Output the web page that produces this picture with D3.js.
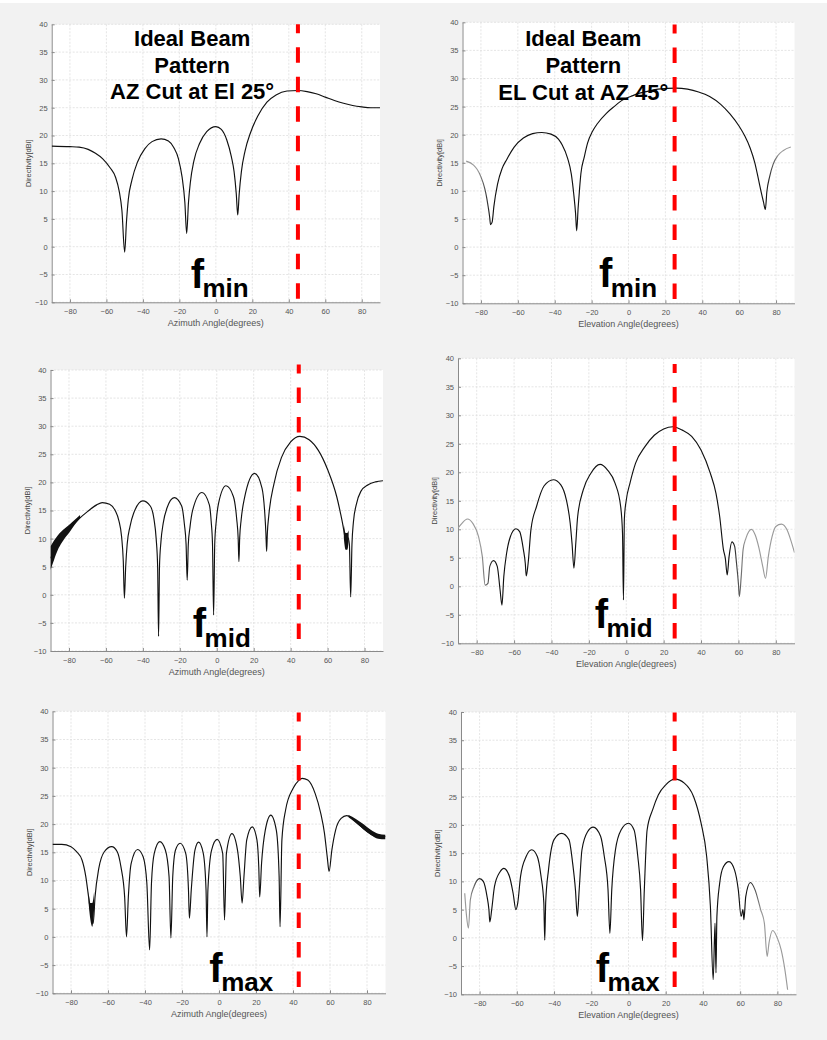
<!DOCTYPE html>
<html><head><meta charset="utf-8">
<script src="https://cdn.jsdelivr.net/npm/d3@7"></script>
<style>body{margin:0;background:#fff}svg{display:block}</style>
</head><body>
<svg id="c" width="827" height="1040"></svg>
<script>
// ---------- tick labels / axis texts ----------
const yTicks = [-10, -5, 0, 5, 10, 15, 20, 25, 30, 35, 40];
const xTicks = [-80, -60, -40, -20, 0, 20, 40, 60, 80];
const yLabel = "Directivity[dBi]";
const xLabels = ["Azimuth Angle(degrees)", "Elevation Angle(degrees)", "Azimuth Angle(degrees)",
                 "Elevation Angle(degrees)", "Azimuth Angle(degrees)", "Elevation Angle(degrees)"];
const titleLeft = ["Ideal Beam", "Pattern", "AZ Cut at El 25°"];
const titleRight = ["Ideal Beam", "Pattern", "EL Cut at AZ 45°"];
const freqSub = ["min", "min", "mid", "mid", "max", "max"];

// ---------- series: AZ cut, f_min ----------
const azMinAng = [-90,-80,-75,-70,-66,-62,-58,-55,-53,-51.5,-50,-49,-48,-46,-43,-39,-35,-30,-26,-23,-20.5,-18.5,-17,-16,-15,-14,-12,-9,-5,0,3,6,8.5,10,11.2,12,12.8,14,16,19,23,28,33,39,45,50,55,60,65,70,75,80,85,90];
const azMinDb  = [18.1,18.0,17.9,17.5,16.8,15.8,14.2,12.5,10,6.5,-1,4.5,8.5,12,15.2,17.6,18.9,19.4,19,17.8,15.8,12.5,8,2.4,8,11.5,15.5,18.5,20.7,21.6,21.1,19.2,16.2,13.5,9.5,5.7,9.5,13.5,17.2,20.5,23.5,26,27.3,28,28.1,27.9,27.5,26.9,26.3,25.8,25.4,25.15,25.0,25.0];

// ---------- series: EL cut, f_min ----------
const elMinAng = [-88,-84,-82,-80,-78,-77,-76,-75.3,-74.8,-73.9,-73,-71,-68.5,-66,-62,-57,-52,-47,-42,-38,-36,-33,-31,-29.7,-28.7,-28.1,-27.3,-26.5,-25.8,-24,-22.2,-19.5,-16.8,-12,-7.8,-3,1.2,6,10.2,16,26,32,38,44,50,55,60,63,66,68.5,70.5,72,73.2,74.2,75,76.5,78.5,81,84,88];
const elMinDb  = [15.3,14.6,13.8,12.5,10.5,9,7,5.4,4,4.5,7.2,11.2,14,15.6,17.8,19.4,20.2,20.4,20.1,19.2,18.2,15.8,13,9.5,6,2.9,7,10.5,13.1,16,18.5,20.6,22,23.8,25,26.2,26.8,27.4,27.7,28.1,28.3,28.1,27.6,26.8,25.4,23.7,21.5,19.8,17.6,15,12,9.7,8,6.7,9.8,12.5,14.8,16.3,17.2,17.8];

// ---------- series: AZ cut, f_mid ----------
const azMidAng = [-90,-85,-80,-75,-70,-65,-62,-58,-55,-53,-51.5,-50.6,-50,-49.3,-48.5,-47,-45,-40,-36,-34,-32.8,-32,-31.5,-31,-30.2,-29,-27,-23,-19,-17.5,-16.6,-16,-15.4,-14.5,-13,-8,-4,-3,-2.3,-1.7,-1.1,-0.3,1,5,9,10.8,11.6,12,12.4,13.2,15,20.5,24.5,26,26.6,27,27.4,28.2,31,35,40,45,50,55,60,65,67,68.5,69.7,70.3,71,71.8,72.5,73.2,74,75.5,78,82,86,90];
const azMidDb  = [6.5,9.7,11.7,13.4,14.8,16.0,16.4,16.1,15,13.2,10.3,6,-0.6,5,9,12.1,14.5,16.7,15.8,13.5,10,5,-7.4,5,9.5,12.7,15.4,17.3,15.8,12.5,9,2.6,9,12,15.1,18.2,16,13,9,-3.6,9,13,16.3,19.4,17.5,13.5,10,5.9,10,13.3,17.2,21.6,19,14.5,11,7.7,11,14.2,19.8,24.4,27.2,28.2,27.6,25.7,22.3,17.4,14.5,12,9.5,8.2,10.2,9,-0.4,9,13,16,18.4,19.6,20.1,20.3];
const azMidBandAng = [-90,-88,-86,-84,-82,-80,-77,-74];
const azMidBandLo  = [4.4,6.3,8,9.2,10.2,11,12.4,13.6];
const azMidBandHi  = [8.6,9.7,10.6,11.3,11.9,12.4,13.3,14.2];
const azMidBand2Ang = [68.8,69.8,70.6,71.4];
const azMidBand2Lo  = [10,8,8,9.5];
const azMidBand2Hi  = [12.5,11,11,11.5];

// ---------- series: EL cut, f_mid ----------
const elMidAng = [-90,-88,-85,-82,-79,-77,-75.5,-74,-73,-71,-69,-67.5,-66.5,-65.5,-64,-62,-59,-57,-55,-54,-53.5,-52.5,-51,-48,-44,-39,-35,-32,-30,-29,-28,-27,-26,-23,-19,-14,-10,-6,-3,-2,-1.5,-1,0,2,5,10,15,20,25,30,35,40,45,48,50,52,53,54,55,56.5,58,59,60,60.5,61.5,62.5,64,67,69,71,73,74.5,76,78,80,83,86,88,90];
const elMidDb  = [10.2,11,11.8,11,8.7,5.2,0.2,0.5,3.5,4.5,3.5,-0.6,-3.3,1.7,5.8,8.7,10.1,9.6,6.4,4,1.8,4,9.9,14,17.6,18.7,17.8,15.1,11.1,7.5,3.2,7.5,12.2,16.9,19.8,21.4,20.4,18.1,14,9.3,-2.4,11.9,15.1,18.1,21.6,24.5,26.5,27.6,28,27.4,26.3,23.9,19.8,16.3,12.2,6.4,4.9,2,5.2,7.8,7,4,0.5,-1.8,1.7,6.4,8.4,10,9,6.7,3.5,1.4,5.2,8.7,10.5,10.9,9.9,8.1,5.9];

// ---------- series: AZ cut, f_max ----------
const azMaxAng = [-90,-85,-80,-77,-74,-72,-70.5,-69,-68,-67,-65,-62,-58,-55,-53,-51,-50,-49,-47.5,-44,-41,-39,-37.5,-36.5,-35,-32,-29,-27,-26,-25,-23.5,-21,-18,-16.5,-16,-15,-13,-11,-8.5,-7,-6.5,-6,-4,-1,2,3,4,7,10,11.5,12.5,13.5,15,18,20.5,21.5,22,23,25,28,31,32.5,33,34,36,40,43,45,48,52,55,57,58.5,59.5,61,63,66,69,72,75,80,85,90];
const azMaxDb  = [16.4,16.4,16,15.1,13.6,10.7,7.1,3.6,2.4,7.1,12.1,15.1,16,15.1,12.4,7.1,0,7.1,13,15.5,14.2,9.5,-2.3,9.5,14.8,16.9,15.4,10.7,-0.2,10.7,15.4,16.6,14.8,8.3,3.3,8.3,15.4,16.8,14.8,8.3,0,8.3,15.4,17.3,14.8,3,14.8,18.3,15.4,10.7,6,10.7,17.2,19.5,17.2,12.4,7.1,13,18.9,21.6,18.9,10.7,1.8,17.2,22.5,26.3,27.7,28.1,27.8,25.4,21.9,18.4,14.2,11.6,15.4,18.9,21,21.5,21,20.1,18.7,17.8,17.8];
const azMaxBandAng = [70,74,78,82,86,90];
const azMaxBandLo  = [21.2,20.2,19.1,18.1,17.4,17.3];
const azMaxBandHi  = [21.6,20.9,20,19,18.3,18.1];
const azMaxBand2Ang = [-70.5,-69.5,-68.5,-67.5];
const azMaxBand2Lo  = [6,3,1.8,5];
const azMaxBand2Hi  = [8,6,6,8];

// ---------- series: EL cut, f_max ----------
const elMaxAng = [-88,-87,-86,-85,-83,-80,-78,-76,-75,-74.5,-73.5,-72,-69,-67,-64,-62,-60.5,-59.5,-58,-55,-52,-49,-47,-45.5,-45,-44.5,-43,-40,-36,-32,-30,-28.5,-27.5,-26.5,-25,-22,-19,-15,-13,-11,-10,-9,-7,-4,0,3,5,6.5,7.5,8.5,10,13,16,20,25,30,35,39,42,44,45.5,46.5,47,47.5,49,51,54,57,59,60.5,61.5,62,63,65.5,68,71,73,74.5,75.5,77.5,80,82,84,85.5];
const elMaxDb  = [7.9,3.8,1.7,6.7,9.1,10.5,10,7.3,5,2.8,5,9.1,11.7,12.3,10.9,7.9,5,6.2,10.9,14.4,15.6,14.4,10.9,6.2,-0.4,6.2,12,17.4,18.5,17.4,13.2,8.5,3.8,8.5,15.6,18.8,19.6,18,14.4,8.5,0.8,8.5,15.6,19.1,20.3,19.1,14.4,8.5,-0.5,8.5,19.1,22.7,25.3,27.1,28.1,27.4,25,20.3,14.4,5.6,-7.4,2.6,-6.2,3.8,9.7,12.6,13.5,12,8.5,3.8,5,3.2,7.3,9.8,8.5,5,2.6,-3.3,-0.9,1.3,-0.05,-2.1,-5.6,-9.2];

// ---------- steering markers (red dashed) ----------
const redAngle  = [45, 25, 44.4, 25.9, 43.1, 24.8];
const redTop    = [40, 39.6, 41, 39, 39.8, 39.9];
const redBottom = [-9.6, -9.6, -8.2, -9.4, -9.4, -9.1];

// ---------- layout (pixels / styling) ----------
const panels = [
  {L:51.7, T:24.3, R:380,   B:302.3, ang:azMinAng, db:azMinDb, title:titleLeft,  tAt:[-13,[36.15,31.3,26.5]], fAt:[-13.8,-7.34], bands:[], faint:null},
  {L:462.5,T:22.3, R:794.5, B:303.3, ang:elMinAng, db:elMinDb, title:titleRight, tAt:[-24.5,[35.8,31.0,26.2]], fAt:[-16,-7.15], bands:[], faint:[-80,80]},
  {L:50.5, T:370,  R:383,   B:651,   ang:azMidAng, db:azMidDb, title:null, fAt:[-13,-7.56],
     bands:[[azMidBandAng,azMidBandLo,azMidBandHi],[azMidBand2Ang,azMidBand2Lo,azMidBand2Hi]], faint:null},
  {L:458,  T:358.3,R:794.5, B:643.3, ang:elMidAng, db:elMidDb, title:null, fAt:[-16.9,-7.26], bands:[], faint:[-76,62]},
  {L:52.5, T:711.3,R:385.5, B:993.3, ang:azMaxAng, db:azMaxDb, title:null, fAt:[-5.24,-7.94],
     bands:[[azMaxBandAng,azMaxBandLo,azMaxBandHi],[azMaxBand2Ang,azMaxBand2Lo,azMaxBand2Hi]], faint:null},
  {L:461,  T:712,  R:796,   B:994.3, ang:elMaxAng, db:elMaxDb, title:null, fAt:[-17.6,-7.77], bands:[], faint:[-84,70]}
];

const svg = d3.select("#c");
const defs = svg.append("defs");
svg.append("rect").attr("x",0).attr("y",3).attr("width",827).attr("height",1037).attr("fill","#f2f2f2");
const FONT = "'Liberation Sans', Arial, Helvetica, sans-serif";

panels.forEach((p, i) => {
  const x = d3.scaleLinear().domain([-90, 90]).range([p.L, p.R]);
  const y = d3.scaleLinear().domain([-10, 40]).range([p.B, p.T]);
  const g = svg.append("g");

  g.append("rect").attr("x", p.L).attr("y", p.T).attr("width", p.R - p.L).attr("height", p.B - p.T).attr("fill", "#fff");

  // grid
  g.selectAll(".gx").data(xTicks).join("line")
    .attr("x1", d => x(d)).attr("x2", d => x(d)).attr("y1", p.T).attr("y2", p.B)
    .attr("stroke", "#dedede").attr("stroke-width", 0.8).attr("stroke-dasharray", "2 1.5");
  g.selectAll(".gy").data(yTicks).join("line")
    .attr("y1", d => y(d)).attr("y2", d => y(d)).attr("x1", p.L).attr("x2", p.R)
    .attr("stroke", "#dedede").attr("stroke-width", 0.8).attr("stroke-dasharray", "2 1.5");

  // axes
  const ax = g.append("g").attr("transform", `translate(0,${p.B})`)
    .call(d3.axisBottom(x).tickValues(xTicks).tickSizeInner(-3).tickSizeOuter(0).tickPadding(6.5));
  const ay = g.append("g").attr("transform", `translate(${p.L},0)`)
    .call(d3.axisLeft(y).tickValues(yTicks).tickSizeInner(-3).tickSizeOuter(0).tickPadding(4));
  [ax, ay].forEach(a => {
    a.select(".domain").attr("stroke", "#8a8a8a");
    a.selectAll(".tick line").attr("stroke", "#8a8a8a");
    a.selectAll(".tick text").attr("fill", "#555").attr("font-size", 7.5).attr("font-family", FONT);
  });

  g.append("text").attr("x", (p.L + p.R) / 2).attr("y", p.B + 24)
    .attr("text-anchor", "middle").attr("font-size", 9).attr("font-family", FONT).attr("fill", "#555")
    .text(xLabels[i]);
  g.append("text").attr("transform", `translate(${p.L - 21},${(p.T + p.B) / 2}) rotate(-90)`)
    .attr("text-anchor", "middle").attr("font-size", 7.5).attr("font-family", FONT).attr("fill", "#444")
    .text(yLabel);

  // clip
  const cid = "clip" + i;
  defs.append("clipPath").attr("id", cid).append("rect")
    .attr("x", p.L).attr("y", p.T - 2).attr("width", p.R - p.L).attr("height", p.B - p.T + 2);
  const plot = g.append("g").attr("clip-path", `url(#${cid})`);

  // stroke colour: faint grey toward the ends of some cuts
  let stroke = "#111";
  if (p.faint) {
    const gid = "grad" + i;
    const grad = defs.append("linearGradient").attr("id", gid)
      .attr("gradientUnits", "userSpaceOnUse").attr("x1", p.L).attr("x2", p.R).attr("y1", 0).attr("y2", 0);
    const f = v => (x(v) - p.L) / (p.R - p.L);
    [[0, "#9a9a9a"], [f(p.faint[0]) - 0.01, "#9a9a9a"], [f(p.faint[0]) + 0.03, "#111"],
     [f(p.faint[1]) - 0.03, "#111"], [f(p.faint[1]) + 0.01, "#9a9a9a"], [1, "#9a9a9a"]]
      .forEach(([o, c]) => grad.append("stop").attr("offset", Math.max(0, Math.min(1, o))).attr("stop-color", c));
    stroke = `url(#${gid})`;
  }

  // thick bands (overlapping traces)
  p.bands.forEach(([ba, lo, hi]) => {
    const area = d3.area().x((d, k) => x(ba[k])).y0((d, k) => y(lo[k])).y1((d, k) => y(hi[k]))
      .curve(d3.curveMonotoneX);
    plot.append("path").attr("d", area(ba)).attr("fill", "#111");
  });

  // pattern line
  const line = d3.line().x((d, k) => x(p.ang[k])).y((d, k) => y(p.db[k])).curve(d3.curveMonotoneX);
  plot.append("path").attr("d", line(p.ang)).attr("fill", "none")
    .attr("stroke", stroke).attr("stroke-width", 1.15).attr("stroke-linejoin", "round");

  // red dashed steering line
  g.append("line").attr("x1", x(redAngle[i])).attr("x2", x(redAngle[i]))
    .attr("y1", y(redTop[i])).attr("y2", y(redBottom[i]))
    .attr("stroke", "#ff0000").attr("stroke-width", 4)
    .attr("stroke-dasharray", "15.5 14").attr("stroke-dashoffset", 6.5);

  // title
  if (p.title) {
    p.title.forEach((t, k) => {
      g.append("text").attr("x", x(p.tAt[0])).attr("y", y(p.tAt[1][k]))
        .attr("text-anchor", "middle").attr("font-size", 22).attr("font-weight", "bold")
        .attr("font-family", FONT).attr("fill", "#000").text(t);
    });
  }

  // frequency label
  const ft = g.append("text").attr("x", x(p.fAt[0])).attr("y", y(p.fAt[1]))
    .attr("font-family", FONT).attr("font-weight", "bold").attr("fill", "#000");
  ft.append("tspan").attr("font-size", 40).text("f");
  ft.append("tspan").attr("font-size", 26).attr("dx", -1.5).attr("dy", 9.5).text(freqSub[i]);
});
</script>
</body></html>
